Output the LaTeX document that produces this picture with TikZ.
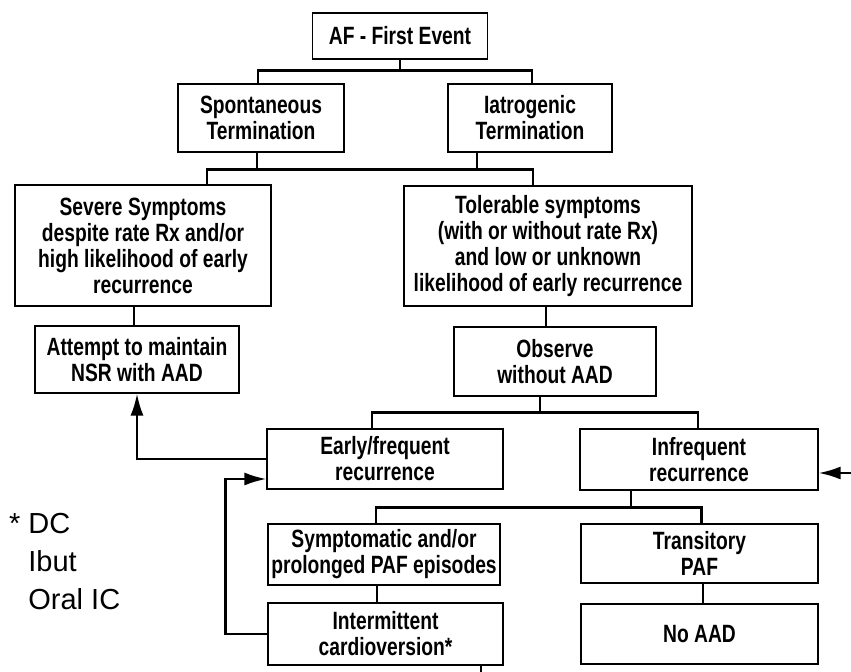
\documentclass[tikz,border=0pt]{standalone}
\usepackage{fontspec}
\setmainfont{Liberation Sans}
\newfontfamily\boxfont[FakeStretch=0.77]{Liberation Sans}
\usepackage{tikz}
\usetikzlibrary{arrows.meta}
\tikzset{
    box/.style={
        draw,
        line width=0.6pt,
        align=center,
        inner sep=1pt,
        font=\boxfont\bfseries\fontsize{12.5}{13}\selectfont
    },
    link/.style={line width=1.2pt},
    arr/.style={link, -{Latex[length=11pt,width=6.5pt]}},
    note/.style={align=left, inner sep=0pt, font=\fontsize{14.5}{19}\selectfont}
}

\begin{document}
\begin{tikzpicture}[x=0.5pt,y=-0.5pt]
	\useasboundingbox (0,0) rectangle (851,672);
	\node[box, minimum width=87.5pt, minimum height=23pt] (af) at (400,36) {AF - First Event};
	\node[box, minimum width=83pt, minimum height=34pt] (spont) at (261,118) {Spontaneous\\Termination};
	\node[box, minimum width=82pt, minimum height=34pt] (iatro) at (530,118) {Iatrogenic\\Termination};
	\node[box, minimum width=128pt, minimum height=60.5pt] (severe) at (143,245.5) {Severe Symptoms\\despite rate Rx and/or\\high likelihood of early\\recurrence};
	\node[box, minimum width=144pt, minimum height=60pt] (toler) at (548,246) {Tolerable symptoms\\(with or without rate Rx)\\and low or unknown\\likelihood of early recurrence};
	\node[box, minimum width=102pt, minimum height=33.5pt] (attempt) at (137,359.5) {Attempt to maintain\\NSR with AAD};
	\node[box, minimum width=101pt, minimum height=34.5pt] (observe) at (555,361.5) {Observe\\without AAD};
	\node[box, minimum width=118pt, minimum height=30pt] (early) at (385,459) {Early/frequent\\recurrence};
	\node[box, minimum width=119pt, minimum height=30.5pt] (infreq) at (699,459.5) {Infrequent\\recurrence};
	\node[box, minimum width=116pt, minimum height=30.5pt] (sympt) at (384,554.5) {Symptomatic and/or\\prolonged PAF episodes};
	\node[box, minimum width=117.5pt, minimum height=31pt] (interm) at (385.5,634) {Intermittent\\cardioversion*};
	\node[box, minimum width=118.5pt, minimum height=29.5pt] (trans) at (699.5,553.5) {Transitory\\PAF};
	\node[box, minimum width=118.5pt, minimum height=30pt] (noaad) at (699.5,634) {No AAD};
	\node[note, anchor=base west] (foot) at (28,610) {\llap{*\ }DC\\Ibut\\Oral IC};
	\coordinate (rin) at (851,473);
	\coordinate (dout) at (481,672);
	\draw[link] (af.south) -- ++(0pt,-6pt);
	\draw[link] ([xshift=-1.5pt]spont.north) -- ++(0pt,6.5pt) -| ([xshift=1pt]iatro.north);
	\draw[link] ([xshift=-2pt]spont.south) -- ++(0pt,-9pt);
	\draw[link] ([xshift=-26.5pt]iatro.south) -- ++(0pt,-9pt);
	\draw[link] ([xshift=32pt]severe.north) -- ++(0pt,7.5pt) -| ([xshift=-7.5pt]toler.north);
	\draw[link] ([xshift=-1.5pt]attempt.north) -- ([xshift=-1.5pt]attempt.north |- severe.south);
	\draw[link] ([xshift=-4.5pt]observe.north) -- ([xshift=-4.5pt]observe.north |- toler.south);
	\draw[link] ([xshift=-7.5pt]observe.south) -- ++(0pt,-8.5pt);
	\draw[link] ([xshift=-6.5pt]early.north) -- ++(0pt,8pt) -| ([xshift=-0.5pt]infreq.north);
	\draw[link] ([xshift=-34pt]infreq.south) -- ++(0pt,-9pt);
	\draw[link] ([xshift=-4pt]sympt.north) -- ++(0pt,8pt) -| ([xshift=1pt]trans.north);
	\draw[link] ([xshift=-3.5pt]sympt.south) -- ([xshift=-3.5pt]sympt.south |- interm.north);
	\draw[link] ([xshift=1.75pt]trans.south) -- ([xshift=1.75pt]trans.south |- noaad.north);
	\draw[link] (dout |- interm.south) -- (dout);
	\draw[arr] (early.west) -| (attempt.south);
	\draw[arr] (interm.west) -- ++(-21pt,0pt) |- ([yshift=-10pt]early.west);
	\draw[arr] (rin) -- (rin -| infreq.east);
\end{tikzpicture}
\end{document}
